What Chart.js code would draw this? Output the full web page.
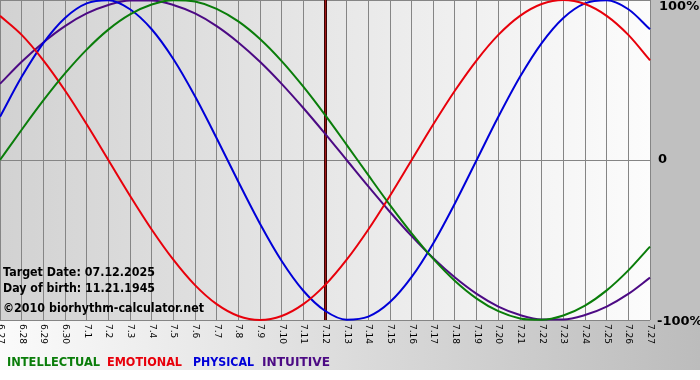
<!DOCTYPE html>
<html>
<head>
<meta charset="utf-8">
<script src="https://cdn.jsdelivr.net/npm/chart.js@4"></script>
<style>
  html, body { margin: 0; padding: 0; background: #fff; }
  #wrap { width: 700px; height: 380px; position: relative; }
</style>
</head>
<body>
<div id="wrap"><canvas id="bio" width="700" height="380"></canvas></div>
<script>
const days = ['6.27','6.28','6.29','6.30','7.1','7.2','7.3','7.4','7.5','7.6','7.7','7.8','7.9','7.10','7.11',
  '7.12','7.13','7.14','7.15','7.16','7.17','7.18','7.19','7.20','7.21','7.22','7.23','7.24','7.25','7.26','7.27'];

const intellectual = [0, 0.189, 0.372, 0.541, 0.690, 0.815, 0.910, 0.972, 0.999, 0.990, 0.945, 0.866, 0.756, 0.618, 0.458, 0.282,
  0.095, -0.095, -0.282, -0.458, -0.618, -0.756, -0.866, -0.945, -0.990, -0.999, -0.972, -0.910, -0.815, -0.690, -0.541];
const emotional = [0.901, 0.782, 0.623, 0.434, 0.223, 0, -0.223, -0.434, -0.623, -0.782, -0.901, -0.975, -1.000, -0.975, -0.901, -0.782,
  -0.623, -0.434, -0.223, 0, 0.223, 0.434, 0.623, 0.782, 0.901, 0.975, 1.000, 0.975, 0.901, 0.782, 0.623];
const physical = [0.270, 0.520, 0.731, 0.888, 0.979, 0.998, 0.942, 0.817, 0.631, 0.398, 0.136, -0.136, -0.398, -0.631, -0.817, -0.942,
  -0.998, -0.979, -0.888, -0.731, -0.520, -0.270, 0, 0.270, 0.520, 0.731, 0.888, 0.979, 0.998, 0.942, 0.817];
const intuitive = [0.476, 0.614, 0.735, 0.837, 0.916, 0.969, 0.997, 0.997, 0.969, 0.916, 0.837, 0.735, 0.614, 0.476, 0.325, 0.165,
  0, -0.165, -0.325, -0.476, -0.614, -0.735, -0.837, -0.916, -0.969, -0.997, -0.997, -0.969, -0.916, -0.837, -0.735];

const targetDay = '7.12';
const yLabels = [{ v: 1, t: '100%' }, { v: 0, t: '0' }, { v: -1, t: '-100%' }];
const infoLines = ['Target Date: 07.12.2025', 'Day of birth: 11.21.1945', '\u00a92010 biorhythm-calculator.net'];
const legendItems = [
  { t: 'INTELLECTUAL', c: '#0a7d0a' },
  { t: 'EMOTIONAL', c: '#e8000b' },
  { t: 'PHYSICAL', c: '#0000d8' },
  { t: 'INTUITIVE', c: '#4c0a84' },
];

// text squeezed/stretched to a given width
function fitText(ctx, txt, x, y, w) {
  const m = ctx.measureText(txt).width;
  ctx.save();
  ctx.translate(x, y);
  ctx.scale(w / m, 1);
  ctx.fillText(txt, 0, 0);
  ctx.restore();
}

const bgPlugin = {
  id: 'bg',
  beforeDraw(chart) {
    const { ctx, chartArea: a } = chart;
    ctx.save();
    ctx.fillStyle = '#fff';
    ctx.fillRect(0, 0, chart.width, chart.height);
    // bottom band
    let g = ctx.createLinearGradient(0, 0, chart.width, 0);
    g.addColorStop(0, '#fbfbfb');
    g.addColorStop(1, '#bcbcbc');
    ctx.fillStyle = g;
    ctx.fillRect(0, a.bottom, chart.width, 50);
    // right margin
    ctx.fillStyle = '#c0c0c0';
    ctx.fillRect(a.right, 0, chart.width - a.right, a.bottom);
    // plot area
    g = ctx.createLinearGradient(a.left, 0, a.right, 0);
    g.addColorStop(0, '#d2d2d2');
    g.addColorStop(1, '#fcfcfc');
    ctx.fillStyle = g;
    ctx.fillRect(a.left, a.top, a.right - a.left, a.bottom - a.top);
    ctx.restore();
  },
  beforeDatasetsDraw(chart) {
    const { ctx, chartArea: a, scales: { x } } = chart;
    const px = Math.round(x.getPixelForValue(days.indexOf(targetDay)));
    ctx.save();
    ctx.fillStyle = '#3a0505';
    ctx.fillRect(px - 1, a.top, 3, a.bottom - a.top);
    ctx.fillStyle = '#a01818';
    ctx.fillRect(px, a.top, 1, a.bottom - a.top);
    ctx.restore();
  },
  afterDraw(chart) {
    const { ctx, chartArea: a, scales: { x, y } } = chart;
    ctx.save();
    ctx.fillStyle = '#000';
    // rotated day labels
    ctx.font = '9px "DejaVu Sans"';
    ctx.textAlign = 'left';
    ctx.textBaseline = 'middle';
    days.forEach((d, i) => {
      ctx.save();
      ctx.translate(Math.round(x.getPixelForValue(i)) + 0.5, a.bottom + 4);
      ctx.rotate(Math.PI / 2);
      ctx.fillText(d, 0, 0);
      ctx.restore();
    });
    // percent labels on the right
    ctx.font = 'bold 13px "DejaVu Sans"';
    ctx.textBaseline = 'middle';
    yLabels.forEach(l => {
      let py = y.getPixelForValue(l.v);
      if (l.v === 1) py += 7;
      if (l.v === -1) py += 2;
      ctx.textAlign = 'left';
      ctx.fillText(l.t, l.v === 0 ? a.right + 8 : (l.v === 1 ? a.right + 9 : a.right + 7), py);
    });
    // info text
    ctx.textBaseline = 'alphabetic';
    ctx.font = 'bold 12px "DejaVu Sans"';
    fitText(ctx, infoLines[0], 3, 276, 152);
    fitText(ctx, infoLines[1], 3, 292, 152);
    fitText(ctx, infoLines[2], 3, 312, 201);
    // legend
    ctx.font = 'bold 12px "DejaVu Sans"';
    const lx = [7, 107, 193, 262];
    const lw = [93, 75, 61, 68];
    legendItems.forEach((it, i) => {
      ctx.fillStyle = it.c;
      fitText(ctx, it.t, lx[i], 366, lw[i]);
    });
    ctx.restore();
  }
};

const mk = (data, color) => ({
  data,
  borderColor: color,
  backgroundColor: color,
  borderWidth: 2,
  pointRadius: 0,
  cubicInterpolationMode: 'monotone',
  clip: 2,
});

new Chart(document.getElementById('bio'), {
  type: 'line',
  data: {
    labels: days,
    datasets: [
      mk(intellectual, legendItems[0].c),
      mk(emotional, legendItems[1].c),
      mk(physical, legendItems[2].c),
      mk(intuitive, legendItems[3].c),
    ],
  },
  options: {
    responsive: false,
    animation: false,
    devicePixelRatio: 1,
    layout: { padding: { left: 0, top: 0, right: 50, bottom: 60 } },
    plugins: { legend: { display: false }, tooltip: { enabled: false } },
    scales: {
      x: {
        offset: false,
        ticks: { display: false },
        grid: { color: '#858585', lineWidth: 1, drawTicks: false },
        border: { display: false },
      },
      y: {
        min: -1, max: 1,
        ticks: { display: false, stepSize: 1 },
        grid: { color: '#858585', lineWidth: 1, drawTicks: false },
        border: { display: false },
      },
    },
  },
  plugins: [bgPlugin],
});
</script>
</body>
</html>
